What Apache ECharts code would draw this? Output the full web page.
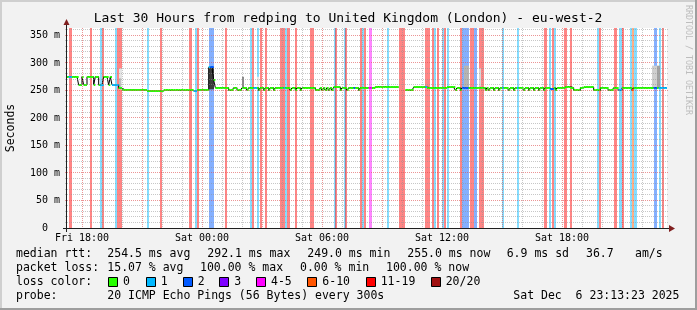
<!DOCTYPE html>
<html><head><meta charset="utf-8">
<script src="https://cdn.jsdelivr.net/npm/echarts@6/dist/echarts.min.js"></script>
<style>html,body{margin:0;padding:0;background:#f2f2f2}#c{width:697px;height:310px}</style>
</head><body><div id="c"></div>
<script>
// ---------------- data ----------------
const titleText = 'Last 30 Hours from redping to United Kingdom (London) - eu-west-2';
const yAxisName = 'Seconds';
const START_HOUR = 17.25;          // Fri 17:15 (hours since Fri 00:00)
const STEP_MIN = 5;                // 300 s steps
const N_STEPS = 360;               // 30 hours
const Y_MAX = 363.5;               // ms
const xLabelHours = [18, 24, 30, 36, 42];
const xLabelText = ['Fri 18:00', 'Sat 00:00', 'Sat 06:00', 'Sat 12:00', 'Sat 18:00'];
const xGridMajor = [18, 21, 24, 27, 30, 33, 36, 39, 42, 45];
const xGridMinor = [19, 20, 22, 23, 25, 26, 28, 29, 31, 32, 34, 35, 37, 38, 40, 41, 43, 44, 46, 47];
const yGridMajor = [50, 100, 150, 200, 250, 300, 350];
const yGridMinor = [10, 20, 30, 40, 60, 70, 80, 90, 110, 120, 130, 140, 160, 170, 180, 190, 210, 220, 230, 240,
  260, 270, 280, 290, 310, 320, 330, 340, 360];
const yLabelValues = [0, 50, 100, 150, 200, 250, 300, 350];

const lossLabels = ['0', '1', '2', '3', '4-5', '6-10', '11-19', '20/20'];
const lossColors = ['#26ff00', '#00b8ff', '#0059ff', '#7e00ff', '#ff00ff', '#ff5500', '#ff0000', '#a01010'];

// loss background bands: [firstStep, lastStep, lossClass]
const lossBands = [
  [1, 2, 6], [14, 14, 6], [20, 20, 1], [21, 21, 6], [29, 29, 1], [30, 32, 6], [48, 48, 1], [56, 56, 6],
  [73, 74, 6], [77, 77, 1], [78, 78, 6], [85, 87, 2], [95, 95, 6], [110, 110, 1], [111, 111, 6],
  [114, 114, 1], [116, 116, 6], [119, 119, 6], [128, 130, 6], [131, 131, 1], [132, 133, 6], [137, 137, 6],
  [146, 147, 6], [160, 160, 1], [161, 161, 6], [166, 166, 1], [167, 167, 6], [176, 176, 6], [177, 177, 1],
  [178, 178, 6], [181, 182, 4], [192, 192, 1], [199, 202, 6], [215, 217, 6], [219, 219, 6], [220, 220, 1],
  [222, 222, 6], [225, 225, 1], [226, 226, 6], [228, 228, 1], [236, 236, 6], [237, 240, 2], [242, 243, 6],
  [244, 245, 2], [247, 249, 6], [261, 261, 1], [270, 270, 1], [286, 287, 6], [289, 289, 1], [291, 291, 6],
  [292, 292, 1], [298, 299, 6], [302, 302, 6], [318, 318, 1], [319, 319, 6], [328, 329, 6], [331, 332, 1],
  [333, 333, 6], [338, 338, 1], [339, 339, 5], [340, 341, 1], [352, 353, 2], [355, 355, 1], [357, 357, 6]
];

// median rtt (ms): [firstStep, value] – value holds until next entry; null = no data
const medianBreaks = [
  [0, 275], [7, 260], [9, 275], [10, 260], [12, 275], [16, 260], [17, 275], [19, 260], [22, 275], [25, 260],
  [26, 275], [27, 260], [31, 254], [33, 251], [48, 249], [58, 250], [76, 249], [78, 251], [85, 292], [88, 269],
  [89, 255], [97, 250], [100, 255], [102, 250], [105, 255], [108, 250], [109, 255], [115, 250], [116, 255],
  [118, 250], [119, 255], [121, 250], [122, 255], [124, 250], [125, 255], [134, 250], [135, 255], [137, 250],
  [138, 255], [140, 250], [141, 255], [149, 250], [152, 255], [153, 250], [154, 255], [155, 250], [156, 255],
  [157, 250], [158, 255], [159, 250], [160, 256], [164, 250], [165, 255], [168, 250], [169, 255], [175, 250],
  [176, 255], [185, 257], [192, 256], [199, null], [203, 250], [208, 256], [216, 255], [228, 256], [233, 250],
  [234, 255], [236, 250], [237, 255], [251, 250], [252, 255], [253, 250], [254, 255], [256, 250], [257, 255],
  [259, 250], [260, 255], [265, 250], [266, 255], [268, 250], [269, 255], [274, 250], [275, 255], [277, 250],
  [278, 255], [280, 250], [281, 255], [283, 250], [284, 255], [286, 250], [287, 255], [290, 252], [292, 255],
  [293, 250], [294, 255], [299, 257], [302, 255], [304, 250], [308, 255], [310, 256], [316, 250], [320, 255],
  [325, 250], [328, 255], [331, 250], [333, 255], [339, 250], [340, 255]
];
// loss class of the median line where not 0: [firstStep, lastStep, lossClass]
const medianLoss = [
  [1, 2, 1], [20, 21, 1], [27, 30, 1], [76, 77, 1], [85, 85, 1], [86, 87, 2], [112, 113, 1], [130, 130, 1],
  [172, 172, 2], [181, 182, 4], [215, 215, 1], [237, 240, 2], [261, 261, 1], [270, 270, 1], [290, 291, 2],
  [331, 332, 1], [339, 339, 5], [352, 353, 2], [355, 359, 1]
];
// smoke: [firstStep, lastStep, low ms, high ms, grey level 0-255]
const smoke = [
  [31, 32, 252, 290, 228], [31, 31, 252, 272, 190], [85, 87, 252, 292, 60], [105, 105, 255, 275, 138],
  [114, 114, 256, 275, 232], [238, 240, 256, 295, 180], [247, 247, 257, 290, 214],
  [351, 353, 256, 295, 207], [354, 355, 256, 295, 162]
];

const statRtt = ['median rtt:', '254.5 ms avg', '292.1 ms max', '249.0 ms min', '255.0 ms now', '6.9 ms sd', '36.7', 'am/s'];
const statLoss = ['packet loss:', '15.07 % avg', '100.00 % max', '0.00 % min', '100.00 % now'];
const lossColorTitle = 'loss color:';
const probeRow = ['probe:', '20 ICMP Echo Pings (56 Bytes) every 300s', 'Sat Dec  6 23:13:23 2025'];
const watermark = 'RRDTOOL / TOBI OETIKER';

// ---------------- build ----------------
const stepHour = s => START_HOUR + s * STEP_MIN / 60;
function hexA(hex, a) {
  const n = parseInt(hex.slice(1), 16);
  return 'rgba(' + (n >> 16) + ',' + ((n >> 8) & 255) + ',' + (n & 255) + ',' + a + ')';
}
const medianSteps = [];
for (let i = 0; i < N_STEPS; i++) {
  let v = null;
  for (const b of medianBreaks) { if (b[0] <= i) v = b[1]; else break; }
  medianSteps.push(v);
}
const medianCls = new Array(N_STEPS).fill(0);
medianLoss.forEach(([a, b, c]) => { for (let i = a; i <= b; i++) medianCls[i] = c; });
const lineData = medianSteps.map((v, i) => [stepHour(i), v]);
lineData.push([stepHour(N_STEPS), medianSteps[N_STEPS - 1]]);
const bandData = [];
medianSteps.forEach((v, i) => { if (v != null) bandData.push([i, v, medianCls[i]]); });

const MONO = 'DejaVu Sans Mono';
const GRID_C = 'rgba(143,143,143,0.5)';
const MGRID_C = 'rgba(222,79,79,0.6)';

function gridLineSeries(values, vertical, color) {
  return {
    type: 'custom', silent: true, z: 6, clip: false,
    data: values.map(v => vertical ? [v, 0] : [START_HOUR, v]),
    renderItem(params, api) {
      if (vertical) {
        const h = api.value(0);
        const p = api.coord([h, 0]), q = api.coord([h, Y_MAX]);
        const x = Math.floor(p[0]) + 0.5;
        return { type: 'line', shape: { x1: x, y1: q[1], x2: x, y2: p[1] + 2 },
          style: { stroke: color, lineWidth: 1, lineDash: [1, 1] } };
      }
      const v = api.value(1);
      const p = api.coord([START_HOUR, v]), q = api.coord([stepHour(N_STEPS), v]);
      const y = Math.floor(p[1]) + 0.5;
      return { type: 'line', shape: { x1: p[0] - 2, y1: y, x2: q[0] + 2, y2: y },
        style: { stroke: color, lineWidth: 1, lineDash: [1, 1] } };
    }
  };
}

const series = [
  { // loss background
    type: 'custom', silent: true, z: 1,
    data: lossBands,
    encode: { x: [0, 1], y: 2 },
    renderItem(params, api) {
      const s = api.value(0), e = api.value(1), c = api.value(2);
      const p0 = api.coord([stepHour(s), Y_MAX]), p1 = api.coord([stepHour(e + 1), 0]);
      const x0 = Math.round(p0[0]), x1 = Math.max(Math.round(p1[0]), x0 + 2);
      return { type: 'rect', shape: { x: x0, y: Math.round(p0[1]), width: x1 - x0, height: Math.round(p1[1]) - Math.round(p0[1]) },
        style: { fill: hexA(lossColors[c], 0.48) } };
    }
  },
  { // smoke
    type: 'custom', silent: true, z: 2,
    data: smoke,
    encode: { x: [0, 1], y: [2, 3] },
    renderItem(params, api) {
      const s = api.value(0), e = api.value(1), lo = api.value(2), hi = api.value(3), g = api.value(4);
      const p0 = api.coord([stepHour(s), hi]), p1 = api.coord([stepHour(e + 1), lo]);
      const x0 = Math.round(p0[0]), x1 = Math.max(Math.round(p1[0]), x0 + 2);
      return { type: 'rect', shape: { x: x0, y: p0[1], width: x1 - x0, height: p1[1] - p0[1] },
        style: { fill: 'rgb(' + g + ',' + g + ',' + g + ')' } };
    }
  },
  { // median connector
    type: 'line', z: 3, step: 'end', showSymbol: false, silent: true, connectNulls: false,
    data: lineData, lineStyle: { color: '#000', width: 1 }
  },
  { // median coloured by loss
    type: 'custom', silent: true, z: 4,
    data: bandData,
    encode: { x: 0, y: 1 },
    renderItem(params, api) {
      const i = api.value(0), v = api.value(1), c = api.value(2);
      const p0 = api.coord([stepHour(i), v]), p1 = api.coord([stepHour(i + 1), v]);
      return { type: 'rect', shape: { x: p0[0], y: Math.round(p0[1]) - 1, width: p1[0] - p0[0], height: 2 },
        style: { fill: lossColors[c] } };
    }
  },
  gridLineSeries(xGridMinor, true, GRID_C),
  gridLineSeries(yGridMinor, false, GRID_C),
  gridLineSeries(xGridMajor, true, MGRID_C),
  gridLineSeries(yGridMajor, false, MGRID_C)
];

// ---------------- graphic (frame, texts, legend) ----------------
const graphic = [
  { type: 'rect', shape: { x: 0, y: 0, width: 697, height: 2 }, style: { fill: '#cfcfcf' }, silent: true },
  { type: 'rect', shape: { x: 0, y: 0, width: 2, height: 310 }, style: { fill: '#cfcfcf' }, silent: true },
  { type: 'rect', shape: { x: 0, y: 308, width: 697, height: 2 }, style: { fill: '#9e9e9e' }, silent: true },
  { type: 'rect', shape: { x: 695, y: 0, width: 2, height: 310 }, style: { fill: '#9e9e9e' }, silent: true },
  // axes
  { type: 'line', shape: { x1: 63, y1: 228.5, x2: 671, y2: 228.5 }, style: { stroke: '#1f1f1f', lineWidth: 1 }, z: 10, silent: true },
  { type: 'line', shape: { x1: 66.5, y1: 232, x2: 66.5, y2: 24 }, style: { stroke: '#1f1f1f', lineWidth: 1 }, z: 10, silent: true },
  { type: 'polygon', shape: { points: [[669, 225], [675, 228.5], [669, 232]] }, style: { fill: '#801f1f' }, z: 10, silent: true },
  { type: 'polygon', shape: { points: [[63.5, 25], [66.5, 19], [69.5, 25]] }, style: { fill: '#801f1f' }, z: 10, silent: true },
  { type: 'text', x: 348, y: 19, style: { text: titleText, font: '13px "' + MONO + '"', fill: '#000', align: 'center', verticalAlign: 'middle' } },
  { type: 'text', x: 11, y: 128, rotation: Math.PI / 2, style: { text: yAxisName, font: '11.5px "' + MONO + '"', fill: '#000', align: 'center', verticalAlign: 'middle' } },
  { type: 'text', x: 688, y: 60, rotation: -Math.PI / 2, style: { text: watermark, font: '8.3px "' + MONO + '"', fill: '#bdbdbd', align: 'center', verticalAlign: 'middle' } }
];
const LEG_FONT = '11.5px "' + MONO + '"';
function legText(x, y, t) {
  graphic.push({ type: 'text', x: x, y: y, style: { text: t, font: LEG_FONT, fill: '#000', align: 'left', verticalAlign: 'middle' } });
}
const rttX = [16, 107.3, 207.3, 307.3, 407.3, 506.7, 586, 635];
statRtt.forEach((t, i) => legText(rttX[i], 254.3, t));
const lossX = [16, 107.3, 200, 300, 386];
statLoss.forEach((t, i) => legText(lossX[i], 268.3, t));
legText(16, 282.3, lossColorTitle);
const boxX = [108, 145.7, 182.7, 219.3, 256, 307.3, 365.7, 430.7];
lossLabels.forEach((t, i) => {
  graphic.push({ type: 'rect', shape: { x: Math.round(boxX[i]) + 0.5, y: 277.5, width: 9, height: 9 },
    style: { fill: lossColors[i], stroke: '#000', lineWidth: 1 } });
  legText(boxX[i] + 15, 282.3, t);
});
const probeX = [16, 107.3, 513.3];
probeRow.forEach((t, i) => legText(probeX[i], 296, t));

const chart = echarts.init(document.getElementById('c'), null, { renderer: 'canvas' });
chart.setOption({
  animation: false,
  backgroundColor: '#f2f2f2',
  grid: { left: 67, top: 28, width: 600, height: 200, show: true, backgroundColor: '#ffffff', borderWidth: 0 },
  xAxis: {
    type: 'value', min: START_HOUR, max: stepHour(N_STEPS),
    axisLine: { show: false }, axisTick: { show: false }, splitLine: { show: false },
    axisLabel: {
      customValues: xLabelHours, margin: 5, color: '#000', fontFamily: MONO, fontSize: 10,
      formatter: v => { const k = xLabelHours.indexOf(Math.round(v * 1000) / 1000); return k >= 0 ? xLabelText[k] : ''; }
    }
  },
  yAxis: {
    type: 'value', min: 0, max: Y_MAX,
    axisLine: { show: false }, axisTick: { show: false }, splitLine: { show: false },
    axisLabel: {
      customValues: yLabelValues, margin: 7, color: '#000', fontFamily: MONO, fontSize: 10,
      formatter: v => v === 0 ? '0\u00a0\u00a0' : (v % 50 === 0 ? v + ' m' : '')
    }
  },
  graphic: graphic,
  series: series
});
</script>
</body></html>
